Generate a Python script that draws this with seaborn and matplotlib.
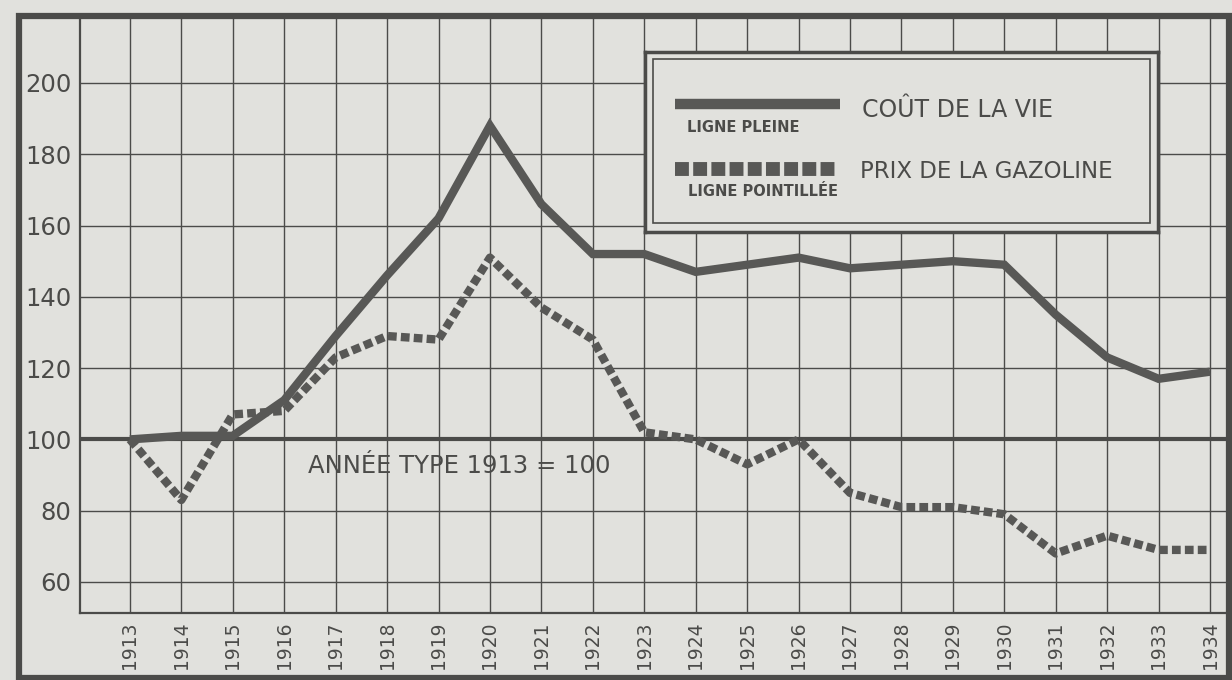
import numpy as np
import pandas as pd
import matplotlib
matplotlib.use("Agg")
import matplotlib.pyplot as plt
from matplotlib.patches import Rectangle
import seaborn as sns

# données (indice, 1913 = 100)
annees = list(range(1913, 1935))
cout_vie = [100, 101, 101, 111, 129, 146, 162, 188, 166, 152, 152, 147,
            149, 151, 148, 149, 150, 149, 135, 123, 117, 119]
prix_gazoline = [100, 83, 107, 108, 123, 129, 128, 151, 137, 128, 102, 100,
                 93, 100, 85, 81, 81, 79, 68, 73, 69, 69]
yticks = [60, 80, 100, 120, 140, 160, 180, 200]

fond = "#e1e1dd"
encre = "#4b4b49"
trait = "#585856"

sns.set_style("white")
plt.rcParams["font.family"] = ["DejaVu Sans"]

df = pd.DataFrame({"annee": annees, "cout": cout_vie, "gaz": prix_gazoline})

W, H = 1232, 680
fig = plt.figure(figsize=(W / 100, H / 100), dpi=100, facecolor=fond)
ax = fig.add_axes([80 / W, 1 - 613 / H, (1227 - 80) / W, (613 - 17) / H])
ax.set_facecolor(fond)

# grille
for x in annees:
    ax.axvline(x, color=encre, lw=1.0, zorder=1)
for y in yticks:
    ax.axhline(y, color=encre, lw=1.0, zorder=1)
ax.axhline(100, color=encre, lw=3.0, zorder=2)

sns.lineplot(data=df, x="annee", y="cout", ax=ax, color=trait, lw=6,
             solid_joinstyle="miter", solid_capstyle="butt", zorder=4)
sns.lineplot(data=df, x="annee", y="gaz", ax=ax, color=trait, lw=6,
             dashes=False, zorder=4)
ax.lines[-1].set_linestyle((0, (1.05, 0.5)))
ax.lines[-1].set_dash_capstyle("butt")

ax.set_xlim(1912.03, 1934.33)
ax.set_ylim(51.3, 218.5)
ax.set_xticks(annees)
ax.set_xticklabels([str(a) for a in annees], rotation=90, fontsize=13.5, color=encre)
ax.set_yticks(yticks)
ax.set_yticklabels([str(v) for v in yticks], fontsize=17.5, color=encre)
ax.tick_params(length=0, pad=6)
ax.set_xlabel("")
ax.set_ylabel("")
for s in ["top", "right"]:
    ax.spines[s].set_visible(False)
for s in ["left", "bottom"]:
    ax.spines[s].set_color(encre)
    ax.spines[s].set_linewidth(1.6)

ax.text(1919.4, 92.5, "ANNÉE TYPE 1913 = 100", fontsize=17.5, color=encre,
        ha="center", va="center", zorder=5)

# cadre extérieur
fig.patches.append(Rectangle((19 / W, 1 - 678 / H), (1229 - 19) / W, (678 - 16) / H,
                             transform=fig.transFigure, fill=False,
                             edgecolor=encre, lw=4.5, zorder=10))

# légende encadrée
leg = fig.add_axes([645 / W, 1 - 232 / H, (1158 - 645) / W, (232 - 52) / H],
                   zorder=5)
leg.set_facecolor(fond)
leg.set_xlim(0, 513)
leg.set_ylim(180, 0)
leg.set_xticks([])
leg.set_yticks([])
for s in leg.spines.values():
    s.set_color(encre)
    s.set_linewidth(2.5)
leg.add_patch(Rectangle((8, 7), 497, 164, fill=False, edgecolor=encre, lw=1.2))
leg.plot([30, 195], [52, 52], color=trait, lw=7.5, solid_capstyle="butt")
leg.plot([30, 190], [117, 117], color=trait, lw=10,
         linestyle=(0, (1.0, 0.31)), dash_capstyle="butt")
leg.text(217, 58, "COÛT DE LA VIE", fontsize=17, color=encre, va="center")
leg.text(215, 119, "PRIX DE LA GAZOLINE", fontsize=16.5, color=encre, va="center")
leg.text(42, 75, "LIGNE PLEINE", fontsize=10.5, color=encre, va="center",
         fontweight="bold")
leg.text(43, 139, "LIGNE POINTILLÉE", fontsize=10.5, color=encre, va="center",
         fontweight="bold")

fig.savefig("out.png", dpi=100, facecolor=fond)
